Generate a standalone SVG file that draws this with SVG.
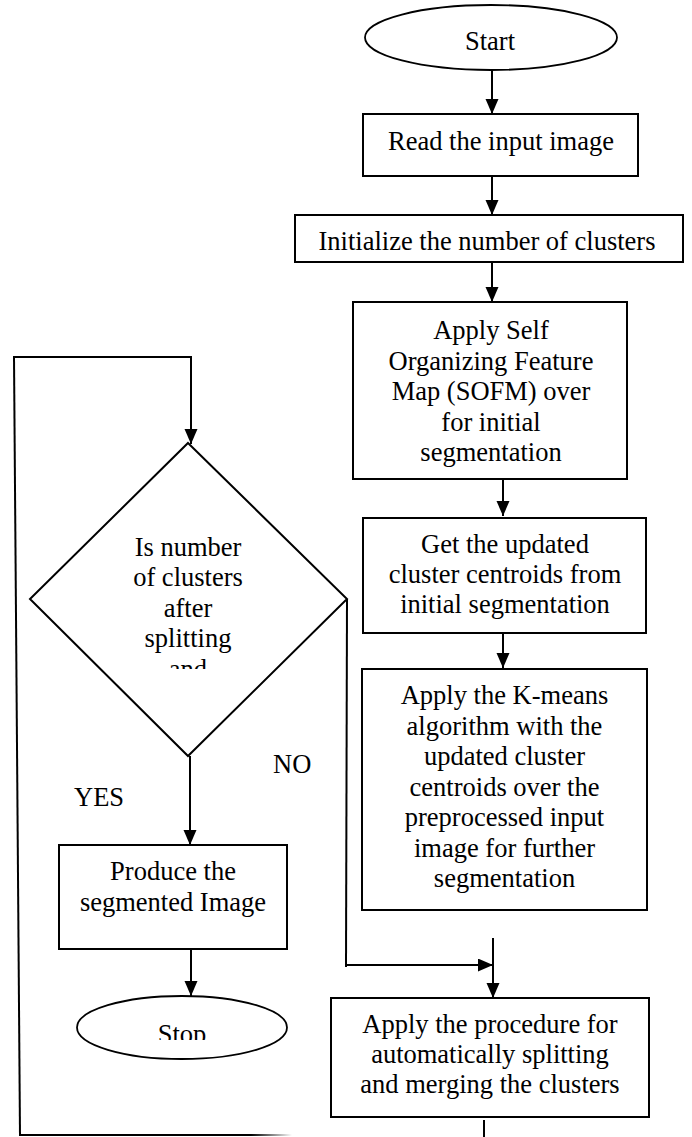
<svg xmlns="http://www.w3.org/2000/svg" width="692" height="1137" viewBox="0 0 692 1137">
<style>
  .box { fill: #ffffff; stroke: #000000; stroke-width: 2; }
  .term { fill: #ffffff; stroke: #000000; stroke-width: 1.8; }
  .ln { fill: none; stroke: #000000; stroke-width: 2; }
  .arr { fill: none; stroke: #000000; stroke-width: 2; marker-end: url(#ah); }
  .t { font-family: 'Liberation Serif', 'DejaVu Serif', serif; font-size: 26.5px; fill: #000000; text-anchor: middle; }
  .lbl { text-anchor: start; }
</style>
<defs>
  <marker id="ah" markerUnits="userSpaceOnUse" markerWidth="16" markerHeight="14" refX="15" refY="6.5" orient="auto">
    <path d="M0,0 L15,6.5 L0,13 z" fill="#000000"/>
  </marker>
  <clipPath id="clipDiamondText"><rect x="0" y="520" width="360" height="149"/></clipPath>
  <clipPath id="clipStop"><rect x="0" y="1000" width="360" height="40"/></clipPath>
  <linearGradient id="fade" gradientUnits="userSpaceOnUse" x1="19" y1="1135" x2="292" y2="1135">
    <stop offset="0" stop-color="#000"/>
    <stop offset="0.85" stop-color="#000"/>
    <stop offset="1" stop-color="#000" stop-opacity="0"/>
  </linearGradient>
</defs>

<g id="connectors">
  <line class="arr" x1="492" y1="70" x2="492" y2="114"/>
  <line class="arr" x1="492" y1="176" x2="492" y2="215"/>
  <line class="arr" x1="492" y1="262" x2="492" y2="302"/>
  <line class="arr" x1="503" y1="480" x2="503" y2="516"/>
  <line class="arr" x1="503" y1="633" x2="503" y2="668"/>
  <line class="arr" x1="190" y1="756" x2="190" y2="845"/>
  <line class="arr" x1="191" y1="949" x2="191" y2="996"/>
  <polyline class="ln" points="347,599 346,967"/>
  <line class="arr" x1="345" y1="965" x2="493" y2="965"/>
  <line class="arr" x1="493" y1="938" x2="493" y2="998"/>
  <line class="ln" x1="484" y1="1120" x2="484" y2="1137"/>
  <polyline class="ln" points="14,357 20,1135"/>
  <rect x="19" y="1134" width="273" height="2" fill="url(#fade)"/>
  <polyline class="ln" points="13,357 191,357 191,380"/>
  <line class="arr" x1="191" y1="378" x2="191" y2="444"/>
  <text class="t lbl" x="273" y="773">NO</text>
  <text class="t lbl" x="74" y="806">YES</text>
</g>

<g id="start">
  <ellipse class="term" cx="491" cy="37.5" rx="126" ry="32.5"/>
  <text class="t" x="490" y="50">Start</text>
</g>

<g id="read">
  <rect class="box" x="363" y="114" width="275" height="62"/>
  <text class="t" x="501" y="150">Read the input image</text>
</g>

<g id="init">
  <rect class="box" x="295" y="215" width="388" height="47"/>
  <text class="t" x="487" y="250">Initialize the number of clusters</text>
</g>

<g id="sofm">
  <rect class="box" x="353" y="302" width="274" height="177"/>
  <text class="t" x="491" y="339">Apply Self</text>
  <text class="t" x="491" y="369.5">Organizing Feature</text>
  <text class="t" x="491" y="400">Map (SOFM) over</text>
  <text class="t" x="491" y="430.5">for initial</text>
  <text class="t" x="491" y="461">segmentation</text>
</g>

<g id="centroids">
  <rect class="box" x="363" y="518" width="283" height="115"/>
  <text class="t" x="505" y="553">Get the updated</text>
  <text class="t" x="505" y="583">cluster centroids from</text>
  <text class="t" x="505" y="613">initial segmentation</text>
</g>

<g id="kmeans">
  <rect class="box" x="362" y="669" width="285" height="241"/>
  <text class="t" x="504.5" y="704">Apply the K-means</text>
  <text class="t" x="504.5" y="734.5">algorithm with the</text>
  <text class="t" x="504.5" y="765">updated cluster</text>
  <text class="t" x="504.5" y="795.5">centroids over the</text>
  <text class="t" x="504.5" y="826">preprocessed input</text>
  <text class="t" x="504.5" y="856.5">image for further</text>
  <text class="t" x="504.5" y="887">segmentation</text>
</g>

<g id="decision">
  <polygon class="box" points="188,443 347,599 188,756 30,599"/>
  <g clip-path="url(#clipDiamondText)">
    <text class="t" x="188" y="555.5">Is number</text>
    <text class="t" x="188" y="586">of clusters</text>
    <text class="t" x="188" y="616.5">after</text>
    <text class="t" x="188" y="647">splitting</text>
    <text class="t" x="188" y="677.5">and</text>
  </g>
</g>

<g id="produce">
  <rect class="box" x="59" y="845" width="228" height="104"/>
  <text class="t" x="173" y="880">Produce the</text>
  <text class="t" x="173" y="911">segmented Image</text>
</g>

<g id="stop">
  <ellipse class="term" cx="182" cy="1027.5" rx="105" ry="31.5"/>
  <g clip-path="url(#clipStop)">
    <text class="t" x="182" y="1043">Stop</text>
  </g>
</g>

<g id="splitmerge">
  <rect class="box" x="331" y="998" width="318" height="119"/>
  <text class="t" x="490" y="1033">Apply the procedure for</text>
  <text class="t" x="490" y="1063">automatically splitting</text>
  <text class="t" x="490" y="1093">and merging the clusters</text>
</g>
</svg>
